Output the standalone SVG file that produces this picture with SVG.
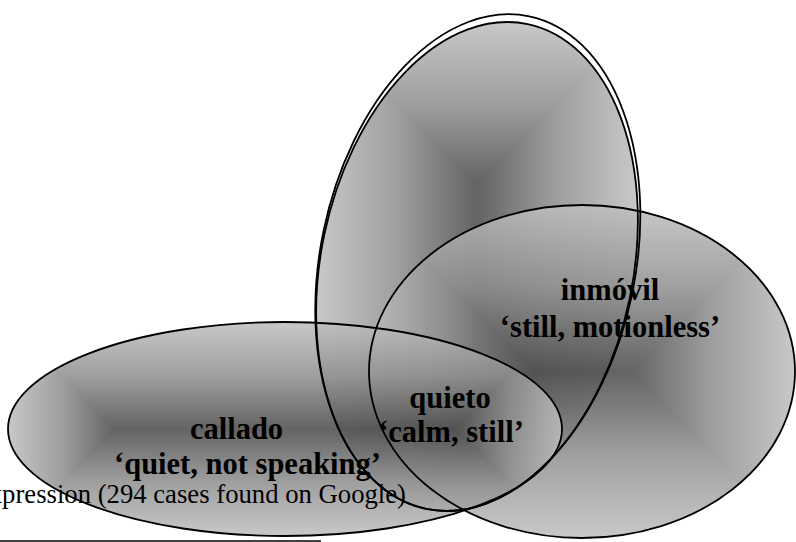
<svg xmlns="http://www.w3.org/2000/svg" width="796" height="542" viewBox="0 0 796 542">
<style>
.band{shape-rendering:crispEdges}
.fillset{opacity:0.85}
.outline{fill:none;stroke:#000;stroke-width:1.8}
.lbl{font-family:"Liberation Serif","Times New Roman",serif;font-weight:bold;font-size:30.5px;fill:#000;text-anchor:middle}
.note{font-family:"Liberation Serif","Times New Roman",serif;font-size:26.7px;fill:#000;text-anchor:end}
</style>
<defs>
<linearGradient id="gTop" x1="0" y1="0" x2="0" y2="1"><stop offset="0" stop-color="#bfbfbf"/><stop offset="0.5" stop-color="#8f8f8f"/><stop offset="1" stop-color="#494949"/></linearGradient>
<linearGradient id="gBot" x1="0" y1="1" x2="0" y2="0"><stop offset="0" stop-color="#bfbfbf"/><stop offset="0.5" stop-color="#8f8f8f"/><stop offset="1" stop-color="#494949"/></linearGradient>
<linearGradient id="gLeft" x1="0" y1="0" x2="1" y2="0"><stop offset="0" stop-color="#bfbfbf"/><stop offset="0.5" stop-color="#8f8f8f"/><stop offset="1" stop-color="#494949"/></linearGradient>
<linearGradient id="gRight" x1="1" y1="0" x2="0" y2="0"><stop offset="0" stop-color="#bfbfbf"/><stop offset="0.5" stop-color="#8f8f8f"/><stop offset="1" stop-color="#494949"/></linearGradient>
<clipPath id="clipTall"><ellipse cx="477" cy="266.5" rx="156" ry="247.6" transform="rotate(11.8 477 266.5)"/></clipPath>
<clipPath id="clipRight"><ellipse cx="582" cy="371.5" rx="213" ry="166.5"/></clipPath>
<clipPath id="clipLeft"><ellipse cx="285" cy="429" rx="277" ry="107"/></clipPath>
</defs>
<rect width="796" height="542" fill="#fff"/>

<g id="node-quieto-region">
<g class="fillset" clip-path="url(#clipTall)">
<polygon class="band" points="316,22 638,22 477,183" fill="url(#gTop)"/>
<polygon class="band" points="477,350 638,511 316,511" fill="url(#gBot)"/>
<polygon class="band" points="316,22 477,183 477,350 316,511" fill="url(#gLeft)"/>
<polygon class="band" points="638,22 477,183 477,350 638,511" fill="url(#gRight)"/>
</g>
</g>

<g id="node-inmovil">
<g class="fillset" clip-path="url(#clipRight)">
<polygon class="band" points="368,205 796,205 629.5,371.5 534.5,371.5" fill="url(#gTop)"/>
<polygon class="band" points="534.5,371.5 629.5,371.5 796,538 368,538" fill="url(#gBot)"/>
<polygon class="band" points="368,205 534.5,371.5 368,538" fill="url(#gLeft)"/>
<polygon class="band" points="796,205 629.5,371.5 796,538" fill="url(#gRight)"/>
</g>
<text class="lbl" x="610" y="300">inmóvil</text>
<text class="lbl" x="610" y="337">‘still, motionless’</text>
</g>

<g id="node-callado">
<g class="fillset" clip-path="url(#clipLeft)">
<polygon class="band" points="8,322 562,322 455,429 115,429" fill="url(#gTop)"/>
<polygon class="band" points="115,429 455,429 562,536 8,536" fill="url(#gBot)"/>
<polygon class="band" points="8,322 115,429 8,536" fill="url(#gLeft)"/>
<polygon class="band" points="562,322 455,429 562,536" fill="url(#gRight)"/>
</g>
<text class="lbl" x="236.5" y="439">callado</text>
<text class="lbl" x="247.5" y="474">‘quiet, not speaking’</text>
</g>

<g id="node-quieto">
<text class="lbl" x="450" y="408">quieto</text>
<text class="lbl" x="451" y="442">‘calm, still’</text>
</g>

<g id="footnote">
<text class="note" x="406" y="503">xpression (294 cases found on Google)</text>
<line x1="0" y1="541" x2="321" y2="541" stroke="#000" stroke-width="1.3"/>
</g>

<g id="outlines">
<ellipse class="outline" cx="477.8" cy="262.6" rx="157.5" ry="251.6" transform="rotate(11.8 477.8 262.6)"/>
<ellipse class="outline" cx="477" cy="266.5" rx="156" ry="247.6" transform="rotate(11.8 477 266.5)"/>
<ellipse class="outline" cx="582" cy="371.5" rx="213" ry="166.5"/>
<ellipse class="outline" cx="285" cy="429" rx="277" ry="107"/>
</g>
</svg>
